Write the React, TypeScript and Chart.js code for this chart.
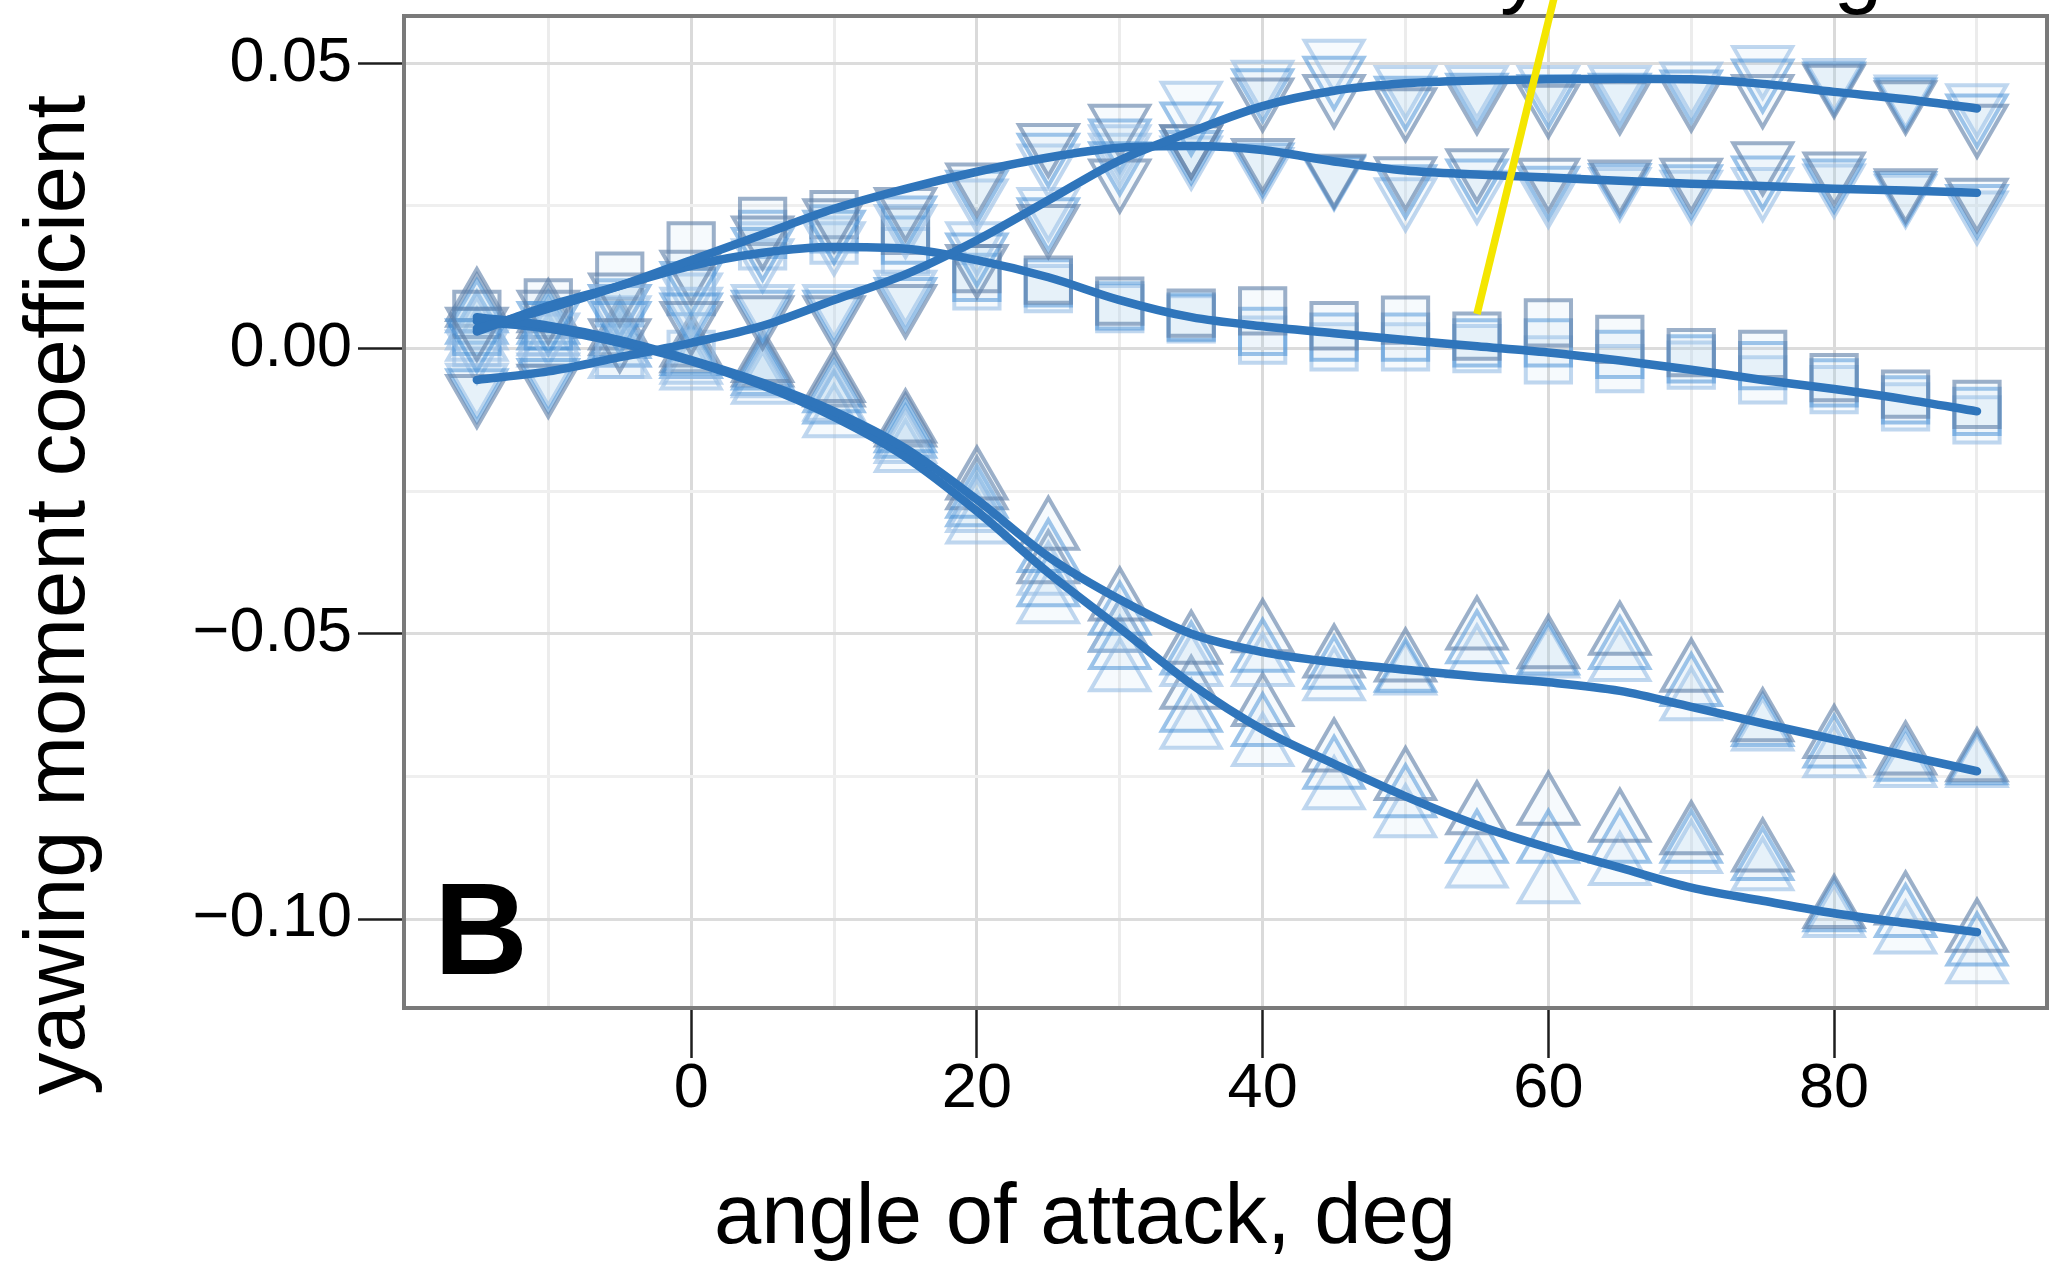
import { useEffect, useRef } from 'react';
import { Chart, registerables } from 'chart.js';

Chart.register(...registerables);

// ---- data ----
const ANGLES = [-15, -10, -5, 0, 5, 10, 15, 20, 25, 30, 35, 40, 45, 50, 55, 60, 65, 70, 75, 80, 85, 90];

// smooth fitted curves
const FIT_A = [-0.0055, -0.004, -0.0015, 0.001, 0.004, 0.0085, 0.013, 0.019, 0.026, 0.033, 0.038, 0.0425, 0.0452, 0.0465, 0.047, 0.0472, 0.0473, 0.0472, 0.0464, 0.045, 0.0437, 0.0421];
const FIT_B = [0.0035, 0.007, 0.011, 0.0155, 0.02, 0.0245, 0.028, 0.031, 0.0335, 0.0352, 0.0355, 0.0348, 0.0328, 0.0312, 0.0305, 0.03, 0.0294, 0.0289, 0.0285, 0.028, 0.0277, 0.0273];
const FIT_C = [0.003, 0.0075, 0.011, 0.0145, 0.0168, 0.0178, 0.0175, 0.0155, 0.0125, 0.0085, 0.0055, 0.0039, 0.0027, 0.0015, 0.0004, -0.0007, -0.0021, -0.0037, -0.0055, -0.0071, -0.0089, -0.011];
const FIT_D = [0.0055, 0.004, 0.0015, -0.002, -0.006, -0.011, -0.0175, -0.0265, -0.0365, -0.044, -0.05, -0.0532, -0.055, -0.0563, -0.0575, -0.0585, -0.06, -0.0628, -0.0657, -0.0685, -0.0713, -0.0741];
const FIT_E = [0.0048, 0.0035, 0.001, -0.0022, -0.0065, -0.012, -0.019, -0.0285, -0.0393, -0.049, -0.0588, -0.0668, -0.0728, -0.0785, -0.0835, -0.0875, -0.091, -0.0945, -0.0968, -0.099, -0.1007, -0.1023];

// measured trials (down triangles, upper group)
const A1 = [-0.0078, -0.006, 0.002, 0.005, 0.006, 0.006, 0.008, 0.015, 0.022, 0.03, 0.036, 0.0442, 0.0448, 0.0425, 0.0437, 0.0431, 0.0437, 0.0442, 0.0448, 0.0466, 0.0437, 0.0396];
const A2 = [-0.0068, -0.005, 0.005, 0.0065, 0.007, 0.007, 0.0092, 0.017, 0.0232, 0.033, 0.04, 0.0458, 0.048, 0.0445, 0.045, 0.0448, 0.045, 0.0456, 0.0475, 0.047, 0.0442, 0.0414];
const A3 = [-0.0058, -0.004, 0.008, 0.0075, 0.008, 0.008, 0.0105, 0.019, 0.025, 0.036, 0.0436, 0.0473, 0.051, 0.0464, 0.0464, 0.0464, 0.0464, 0.047, 0.0499, 0.0476, 0.0447, 0.0432];
// down triangles, lower group
const B1 = [0.004, 0.007, 0.01, 0.014, 0.02, 0.023, 0.025, 0.0293, 0.0362, 0.0396, 0.036, 0.0336, 0.0308, 0.0304, 0.0318, 0.0301, 0.0298, 0.0301, 0.033, 0.0312, 0.0283, 0.0266];
const B2 = [0.002, 0.005, 0.008, 0.012, 0.018, 0.021, 0.0235, 0.028, 0.0345, 0.037, 0.035, 0.0328, 0.0306, 0.029, 0.03, 0.0287, 0.0292, 0.029, 0.0305, 0.03, 0.0278, 0.0255];
const B3 = [0.0, 0.003, 0.006, 0.01, 0.016, 0.019, 0.022, 0.0265, 0.0326, 0.0345, 0.034, 0.032, 0.0304, 0.0267, 0.028, 0.0273, 0.0285, 0.028, 0.0285, 0.0291, 0.0273, 0.0244];
// squares
const C1 = [0.006, 0.008, 0.0127, 0.018, 0.0223, 0.0235, 0.0207, 0.014, 0.012, 0.0083, 0.0062, 0.0066, 0.004, 0.005, 0.0022, 0.0045, 0.0016, -0.0007, -0.001, -0.0051, -0.008, -0.0098];
const C2 = [0.003, 0.004, 0.008, 0.01, 0.02, 0.021, 0.019, 0.0125, 0.0115, 0.0075, 0.0055, 0.003, 0.002, 0.002, 0.001, 0.001, -0.001, -0.0018, -0.003, -0.006, -0.009, -0.011];
const C3 = [0.001, 0.0, -0.001, -0.001, 0.018, 0.019, 0.017, 0.011, 0.0105, 0.007, 0.0052, 0.0015, 0.0003, 0.0003, 0.0, -0.002, -0.0035, -0.0029, -0.0055, -0.0072, -0.0102, -0.0125];
// up triangles, upper group
const D1 = [0.008, 0.006, 0.003, 0.0, -0.0027, -0.0062, -0.0133, -0.0233, -0.0321, -0.0445, -0.0521, -0.0501, -0.0545, -0.0552, -0.0496, -0.0529, -0.0505, -0.057, -0.0657, -0.0686, -0.0715, -0.0727];
const D2 = [0.006, 0.004, 0.0015, -0.0015, -0.004, -0.008, -0.015, -0.0265, -0.036, -0.047, -0.054, -0.0535, -0.0565, -0.057, -0.052, -0.054, -0.053, -0.0595, -0.0665, -0.0703, -0.0726, -0.0732];
const D3 = [0.003, 0.002, 0.0, -0.003, -0.0054, -0.0095, -0.0169, -0.029, -0.04, -0.05, -0.056, -0.056, -0.0585, -0.0575, -0.0545, -0.0545, -0.0551, -0.062, -0.0673, -0.072, -0.0737, -0.0737];
// up triangles, lower group
const E1 = [0.007, 0.005, 0.002, -0.001, -0.0035, -0.007, -0.014, -0.025, -0.038, -0.05, -0.06, -0.063, -0.071, -0.076, -0.082, -0.0803, -0.0833, -0.0855, -0.0885, -0.0984, -0.0978, -0.1026];
const E2 = [0.004, 0.003, 0.0, -0.002, -0.005, -0.01, -0.016, -0.028, -0.042, -0.053, -0.064, -0.0665, -0.074, -0.079, -0.087, -0.087, -0.087, -0.087, -0.09, -0.099, -0.1, -0.105];
const E3 = [0.001, 0.0, -0.002, -0.004, -0.0065, -0.0124, -0.0185, -0.031, -0.045, -0.0569, -0.067, -0.07, -0.0776, -0.0825, -0.0913, -0.0941, -0.0909, -0.0888, -0.0918, -0.1, -0.1029, -0.1081];

const X_TICK_LABELS = [0, 20, 40, 60, 80];
const Y_TICK_LABELS = [-0.1, -0.05, 0, 0.05];
const X_TITLE = 'angle of attack, deg';
const Y_TITLE = 'yawing moment coefficient';
const PANEL_LABEL = 'B';

// ---- styles ----
const FONT = '"Liberation Sans", Arial, Helvetica, sans-serif';
const LINE_COLOR = '#2f75bb';
const TRIAL_COLORS = ['rgba(95,128,168,0.62)', 'rgba(60,138,212,0.5)', 'rgba(150,188,228,0.6)'];
const TRIAL_FILL = 'rgba(170,205,238,0.10)';

const pts = (ys: number[]) => ANGLES.map((x, i) => ({ x, y: ys[i] }));

const isMajorY = (v: number) => Math.abs(v / 0.05 - Math.round(v / 0.05)) < 1e-6;
const isMajorX = (v: number) => v >= 0 && Math.abs(v / 20 - Math.round(v / 20)) < 1e-6;
const fmtY = (v: number) => (Math.abs(v) < 1e-9 ? '0.00' : v.toFixed(2).replace('-', '\u2212'));

const decorPlugin = {
  id: 'decor',
  afterDatasetsDraw(chart: any) {
    const { ctx, chartArea: a } = chart;
    ctx.save();
    ctx.strokeStyle = '#7a7a7a';
    ctx.lineWidth = 4;
    ctx.strokeRect(a.left, a.top, a.right - a.left, a.bottom - a.top);
    ctx.restore();
  },
  afterDraw(chart: any) {
    const { ctx, chartArea: a } = chart;
    ctx.save();
    ctx.fillStyle = '#000';
    // x title
    ctx.font = `85px ${FONT}`;
    ctx.textAlign = 'center';
    ctx.textBaseline = 'alphabetic';
    ctx.fillText(X_TITLE, 1085, 1243);
    // y title
    ctx.save();
    ctx.translate(84, 595);
    ctx.rotate(-Math.PI / 2);
    ctx.fillText(Y_TITLE, 0, 0);
    ctx.restore();
    // panel letter
    ctx.font = `bold 130px ${FONT}`;
    ctx.textAlign = 'left';
    ctx.fillText(PANEL_LABEL, a.left + 30, 974);
    // cut-off annotation above the panel
    ctx.font = `88px ${FONT}`;
    ctx.textAlign = 'center';
    ctx.fillText('y', 1522, -3);
    ctx.fillText('g', 1858, -3);
    // yellow pointer line
    ctx.strokeStyle = '#f4e600';
    ctx.lineWidth = 7.5;
    ctx.lineCap = 'butt';
    ctx.beginPath();
    ctx.moveTo(1477, 314);
    ctx.lineTo(1554, -2);
    ctx.stroke();
    ctx.restore();
  },
};

function markerSets(ys: number[][], style: string, rotation: number, radius: number) {
  return ys.map((y, i) => ({
    type: 'scatter',
    data: pts(y),
    showLine: false,
    pointStyle: style,
    rotation,
    pointRadius: radius,
    pointHoverRadius: radius,
    pointBorderWidth: 4,
    pointBorderColor: TRIAL_COLORS[i],
    pointBackgroundColor: TRIAL_FILL,
    order: 2,
  }));
}

function fitLine(y: number[]) {
  return {
    type: 'scatter',
    data: pts(y),
    showLine: true,
    borderColor: LINE_COLOR,
    borderWidth: 8.5,
    borderCapStyle: 'round',
    cubicInterpolationMode: 'monotone',
    pointRadius: 0,
    pointHoverRadius: 0,
    order: 0,
  };
}

export default function App() {
  const ref = useRef<HTMLCanvasElement | null>(null);
  useEffect(() => {
    document.body.style.margin = '0';
    const canvas = ref.current;
    if (!canvas) return;
    const chart = new Chart(canvas, {
      type: 'scatter',
      data: {
        datasets: [
          ...markerSets([A1, A2, A3], 'triangle', 180, 34),
          ...markerSets([B1, B2, B3], 'triangle', 180, 34),
          ...markerSets([C1, C2, C3], 'rect', 0, 32),
          ...markerSets([D1, D2, D3], 'triangle', 0, 34),
          ...markerSets([E1, E2, E3], 'triangle', 0, 34),
          fitLine(FIT_A),
          fitLine(FIT_B),
          fitLine(FIT_C),
          fitLine(FIT_D),
          fitLine(FIT_E),
        ] as any,
      },
      options: {
        responsive: false,
        animation: false,
        devicePixelRatio: 1,
        layout: { autoPadding: false, padding: { top: 16, right: 16, bottom: 0, left: 0 } },
        plugins: { legend: { display: false }, tooltip: { enabled: false } },
        scales: {
          x: {
            type: 'linear',
            min: -20.1,
            max: 94.9,
            border: { display: false },
            afterFit: (s: any) => {
              s.height = 253;
              s.paddingLeft = 0;
              s.paddingRight = 0;
            },
            grid: {
              color: (c: any) => {
                const v = c.tick ? c.tick.value : NaN;
                if (!(v > -19.5)) return 'rgba(0,0,0,0)';
                return Math.abs(v / 20 - Math.round(v / 20)) < 1e-6 ? '#dadada' : '#ececec';
              },
              lineWidth: 3,
              drawTicks: true,
              tickLength: 50,
              tickWidth: 2.5,
              tickColor: (c: any) => (c.tick && isMajorX(c.tick.value) ? '#1e1e1e' : 'rgba(0,0,0,0)'),
            },
            ticks: {
              stepSize: 10,
              includeBounds: false,
              autoSkip: false,
              maxRotation: 0,
              padding: 0,
              color: '#000',
              font: { family: FONT, size: 63, lineHeight: 1 },
              callback: (v: any) => (X_TICK_LABELS.includes(Number(v)) ? String(v) : ''),
            },
          },
          y: {
            type: 'linear',
            min: -0.1156,
            max: 0.0583,
            border: { display: false },
            afterFit: (s: any) => {
              s.width = 404;
              s.paddingTop = 0;
              s.paddingBottom = 0;
            },
            grid: {
              color: (c: any) => (c.tick && isMajorY(c.tick.value) ? '#dcdcdc' : '#efefef'),
              lineWidth: 3,
              drawTicks: true,
              tickLength: 46,
              tickWidth: 2.5,
              tickColor: (c: any) => (c.tick && isMajorY(c.tick.value) ? '#1e1e1e' : 'rgba(0,0,0,0)'),
            },
            ticks: {
              stepSize: 0.025,
              includeBounds: false,
              autoSkip: false,
              padding: 6,
              color: '#000',
              font: { family: FONT, size: 63, lineHeight: 1 },
              callback: (v: any) => {
                const n = Number(v);
                return Y_TICK_LABELS.some((t) => Math.abs(t - n) < 1e-6) ? fmtY(n) : '';
              },
            },
          },
        },
      } as any,
      plugins: [decorPlugin],
    });
    return () => chart.destroy();
  }, []);
  return (
    <div style={{ width: 2063, height: 1261, background: '#fff' }}>
      <canvas ref={ref} width={2063} height={1261} style={{ display: 'block' }} />
    </div>
  );
}
